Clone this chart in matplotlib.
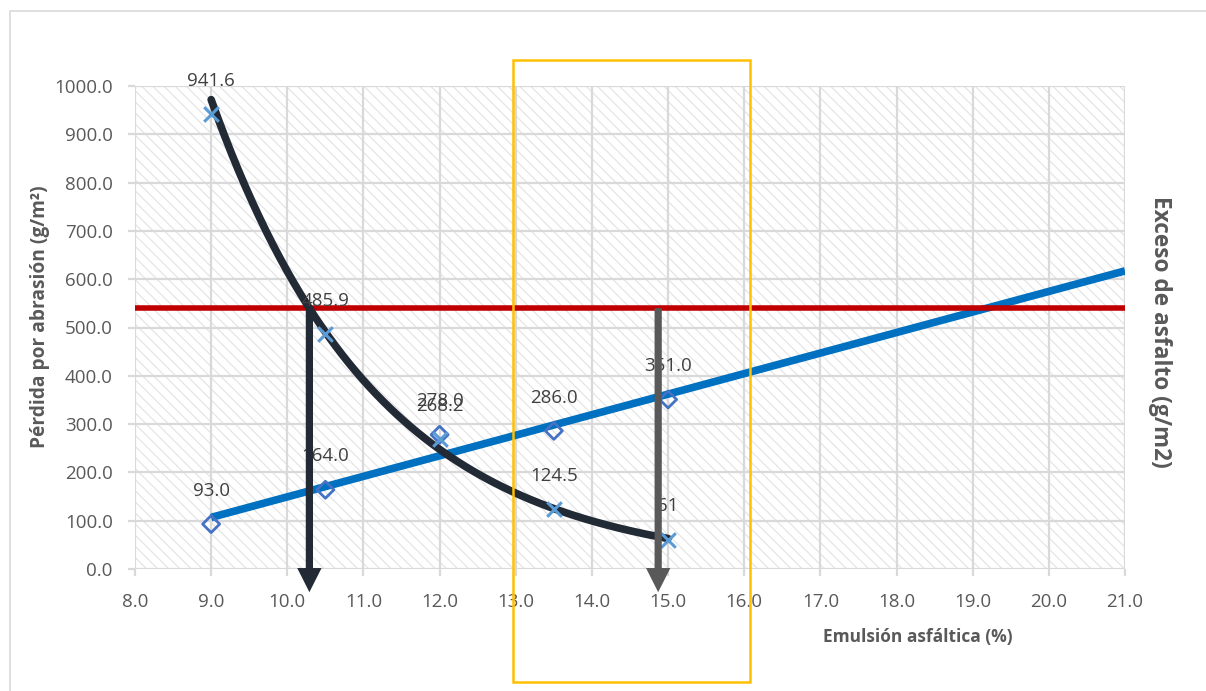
import numpy as np
import matplotlib
matplotlib.use('Agg')
import matplotlib.pyplot as plt
from matplotlib.patches import Rectangle

plt.rcParams['font.family'] = ['Open Sans', 'DejaVu Sans']
plt.rcParams['hatch.linewidth'] = 0.8

# Datos
emulsion = [9.0, 10.5, 12.0, 13.5, 15.0]
exceso = [93.0, 164.0, 278.0, 286.0, 351.0]
perdida = [941.6, 485.9, 268.2, 124.5, 61.0]
etiquetas_exceso = ['93.0', '164.0', '278.0', '286.0', '351.0']
etiquetas_perdida = ['941.6', '485.9', '268.2', '124.5', '61']
limite = 540.0
x_flecha_1 = 10.29
x_flecha_2 = 14.87
zona_optima = [12.96, 16.08]

gris = '#595959'

fig = plt.figure(figsize=(12.06, 6.91), dpi=100)
ax = fig.add_axes([135 / 1206, 1 - 569 / 691, 990 / 1206, 483 / 691])

# borde del area del grafico
fig.patches.append(Rectangle((10 / 1206, -0.05), 1.2, 1.05 - 11 / 691,
                             transform=fig.transFigure, fill=False,
                             edgecolor='#d9d9d9', lw=1.2))

# fondo rayado
ax.add_patch(Rectangle((0, 0), 1, 1, transform=ax.transAxes, facecolor='white',
                       edgecolor='#e2e2e2', hatch='\\\\\\', lw=0, zorder=0))

ax.set_xlim(8, 21)
ax.set_ylim(0, 1000)
ax.set_xticks(np.arange(8, 22, 1))
ax.set_yticks(np.arange(0, 1100, 100))
ax.xaxis.set_major_formatter('{x:.1f}')
ax.yaxis.set_major_formatter('{x:.1f}')
ax.set_axisbelow(True)
ax.grid(True, color='#d9d9d9', lw=1.6)
for s in ax.spines.values():
    s.set_visible(False)
ax.tick_params(axis='both', colors='#d9d9d9', width=1.6, length=5,
               labelcolor=gris, labelsize=13.5)
ax.tick_params(axis='x', pad=12)
ax.tick_params(axis='y', pad=11)

# lineas de tendencia (lineal y exponencial)
m, b = np.polyfit(emulsion, exceso, 1)
xl = np.linspace(9, 21, 50)
ax.plot(xl, m * xl + b, color='#0070c0', lw=5.5, solid_capstyle='butt', zorder=3)

k, ln_a = np.polyfit(emulsion, np.log(perdida), 1)
xe = np.linspace(9, 15, 200)
ax.plot(xe, np.exp(ln_a + k * xe), color='#222a35', lw=5.5, solid_capstyle='round', zorder=4)

# limite horizontal
ax.axhline(limite, color='#c00000', lw=4, zorder=3)

# puntos
ax.scatter(emulsion, exceso, marker='D', s=75, facecolors='none',
           edgecolors='#4472c4', linewidths=2, zorder=5)
ax.scatter(emulsion, perdida, marker='x', s=110, color='#5b9bd5',
           linewidths=2.2, zorder=5)

for x, y, t in zip(emulsion, exceso, etiquetas_exceso):
    ax.annotate(t, (x, y), xytext=(0, 24), textcoords='offset points',
                ha='center', va='center', fontsize=13.5, color='#404040', zorder=6)
for x, y, t in zip(emulsion, perdida, etiquetas_perdida):
    ax.annotate(t, (x, y), xytext=(0, 24), textcoords='offset points',
                ha='center', va='center', fontsize=13.5, color='#404040', zorder=6)

# flechas
for xf, col in [(x_flecha_1, '#222a35'), (x_flecha_2, gris)]:
    ax.arrow(xf, limite, 0, -588, width=0.095, head_width=0.32, head_length=50,
             length_includes_head=True, color=col, lw=0, clip_on=False, zorder=7)

# recuadro amarillo
ax.add_patch(Rectangle((zona_optima[0], -234), zona_optima[1] - zona_optima[0], 1288,
                       fill=False, edgecolor='#ffc000', lw=1.8, clip_on=False, zorder=8))

fig.text(40 / 1206, 1 - 317 / 691, 'Pérdida por abrasión (g/m²)', rotation=90,
         ha='center', va='center', fontsize=13.8, fontweight='bold', color=gris)
fig.text(918 / 1206, 1 - 637 / 691, 'Emulsión asfáltica (%)',
         ha='center', va='center', fontsize=12.5, fontweight='bold', color=gris)
fig.text(1160 / 1206, 1 - 332 / 691, 'Exceso de asfalto (g/m2)', rotation=-90,
         ha='center', va='center', fontsize=16.3, fontweight='bold', color=gris)

fig.savefig('out.png', dpi=100)
